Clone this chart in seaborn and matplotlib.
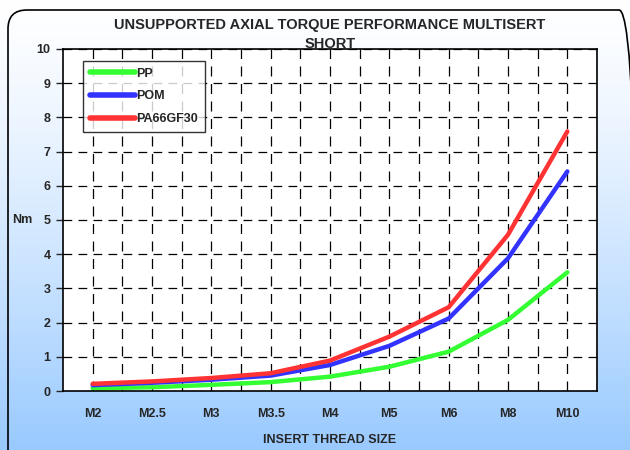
"""Unsupported axial torque chart for Multisert short inserts."""

import matplotlib
matplotlib.use("Agg")
import matplotlib.pyplot as plt
from matplotlib.patches import FancyBboxPatch
import numpy as np
import pandas as pd
import seaborn as sns

# Data
thread_sizes = ["M2", "M2.5", "M3", "M3.5", "M4", "M5", "M6", "M8", "M10"]
pp = [0.08, 0.11, 0.18, 0.26, 0.42, 0.71, 1.15, 2.08, 3.47]
pom = [0.17, 0.24, 0.33, 0.45, 0.76, 1.32, 2.12, 3.88, 6.42]
pa66gf30 = [0.21, 0.28, 0.38, 0.52, 0.89, 1.59, 2.45, 4.57, 7.59]
y_ticks = list(range(0, 11))

series = {"PP": pp, "POM": pom, "PA66GF30": pa66gf30}
palette = {"PP": "#33FF33", "POM": "#3333FF", "PA66GF30": "#FF3333"}

df = pd.DataFrame(
    [(name, size, val) for name, vals in series.items()
     for size, val in zip(thread_sizes, vals)],
    columns=["material", "size", "torque"],
)

sns.set_style("white")
plt.rcParams["font.family"] = ["Liberation Sans", "DejaVu Sans"]
plt.rcParams["font.weight"] = "bold"

fig = plt.figure(figsize=(6.3, 4.5), dpi=100)

# Gradient backdrop with rounded frame
bg = fig.add_axes([0, 0, 1, 1], zorder=-10)
grad = np.linspace(0, 1, 256).reshape(-1, 1) ** 1.3
top = np.array([1.0, 1.0, 1.0])
bottom = np.array([0.60, 0.79, 1.0])
img = top + (bottom - top) * grad[..., None]
bg.imshow(img[::-1], aspect="auto", extent=[0, 1, 0, 1], origin="lower")
bg.add_patch(FancyBboxPatch((8 / 630, -0.1), 1.0, 1.0 + 0.1 - 10 / 450,
                            boxstyle="round,pad=0,rounding_size=0.03",
                            transform=bg.transAxes, fill=False,
                            edgecolor="black", linewidth=1.2,
                            mutation_aspect=630 / 450))
bg.set_xlim(0, 1)
bg.set_ylim(0, 1)
bg.axis("off")

ax = fig.add_axes([63 / 630, 59 / 450, 534 / 630, 342 / 450])
ax.set_facecolor("white")

sns.lineplot(data=df, x="size", y="torque", hue="material", palette=palette,
             sort=False, linewidth=3.2, ax=ax)

n = len(thread_sizes)
ax.set_xlim(-0.5, n - 0.5)
ax.set_ylim(0, 10)

# dashed grid: horizontal at integers, vertical at centres and boundaries
for y in y_ticks[1:]:
    ax.axhline(y, color="black", linestyle=(0, (7, 5)), linewidth=0.9, zorder=0.5)
for x in np.arange(-0.5, n, 0.5)[1:]:
    ax.axvline(x, color="black", linestyle=(0, (8, 6)), linewidth=0.9, zorder=0.5)

ax.set_yticks(y_ticks)
ax.set_xticks(range(n))
ax.set_xticklabels(thread_sizes)
ax.set_xticks(np.arange(-0.5, n, 1.0), minor=True)
ax.tick_params(axis="x", which="major", length=0, pad=12, labelsize=9)
ax.tick_params(axis="x", which="minor", length=5, direction="out", width=1)
ax.tick_params(axis="y", length=5, direction="out", width=1, labelsize=9,
               left=True, pad=4)

for sp in ax.spines.values():
    sp.set_color("black")
    sp.set_linewidth(1.2)

ax.set_xlabel("INSERT THREAD SIZE", fontsize=9, fontweight="bold", labelpad=10)
ax.set_ylabel("Nm", fontsize=9, fontweight="bold", rotation=0, labelpad=10, va="center")
ax.set_title("UNSUPPORTED AXIAL TORQUE PERFORMANCE MULTISERT\nSHORT",
             fontsize=10.5, fontweight="bold", pad=1, linespacing=1.45)

leg = ax.legend(loc="upper left", bbox_to_anchor=(0.037, 0.965), title=None,
                frameon=True, fancybox=False, handlelength=3.6, handletextpad=0.15,
                labelspacing=0.85, fontsize=9, borderpad=0.55, borderaxespad=0)
leg.get_frame().set_edgecolor("black")
leg.get_frame().set_linewidth(1.0)
for t in leg.get_texts():
    t.set_fontweight("bold")
for h in leg.get_lines():
    h.set_linewidth(4)

fig.savefig("out.png", dpi=100)
